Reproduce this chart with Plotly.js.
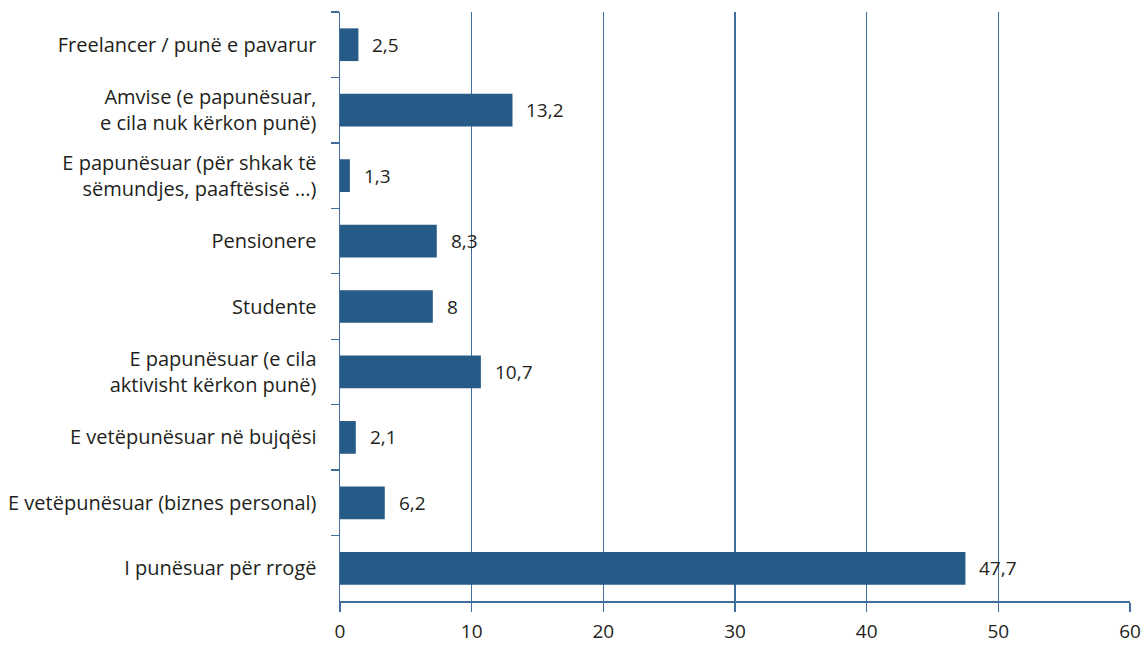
<!DOCTYPE html>
<html>
<head>
<meta charset="utf-8">
<script src="https://cdn.plot.ly/plotly-3.0.1.min.js"></script>
<style>html,body{margin:0;padding:0;background:#fff;}#chart{width:1144px;height:645px;}</style>
</head>
<body>
<div id="chart"></div>
<script>
const categories = [
  "Freelancer / punë e pavarur",
  "Amvise (e papunësuar,<br>e cila nuk kërkon punë)",
  "E papunësuar (për shkak të<br>sëmundjes, paaftësisë ...)",
  "Pensionere",
  "Studente",
  "E papunësuar (e cila<br>aktivisht kërkon punë)",
  "E vetëpunësuar në bujqësi",
  "E vetëpunësuar (biznes personal)",
  "I punësuar për rrogë"
];
const barValues = [1.4, 13.1, 0.75, 7.35, 7.05, 10.7, 1.2, 3.4, 47.5];
const valueLabels = ["2,5", "13,2", "1,3", "8,3", "8", "10,7", "2,1", "6,2", "47,7"];
const xTicks = [0, 10, 20, 30, 40, 50, 60];

const barColor = "#265a87";
const lineColor = "#3f6e9c";
const textColor = "#231f20";
const fontFamily = "'Open Sans', 'Noto Sans', sans-serif";
const fontSize = 20;

const trace = {
  type: "bar",
  orientation: "h",
  y: categories,
  x: barValues,
  marker: {color: barColor},
  hoverinfo: "none"
};

const annotations = categories.map((c, i) => ({
  x: barValues[i],
  y: c,
  xref: "x",
  yref: "y",
  text: valueLabels[i],
  showarrow: false,
  xanchor: "left",
  yanchor: "middle",
  xshift: 12,
  font: {family: fontFamily, size: fontSize - 1, color: textColor}
}));

const layout = {
  width: 1144,
  height: 645,
  margin: {l: 340, r: 14, t: 12, b: 44},
  paper_bgcolor: "#ffffff",
  plot_bgcolor: "#ffffff",
  showlegend: false,
  bargap: 0.5,
  font: {family: fontFamily, size: fontSize, color: textColor},
  xaxis: {
    range: [0, 60],
    tickvals: xTicks,
    ticktext: xTicks.map(String),
    showgrid: true,
    gridcolor: lineColor,
    gridwidth: 1.3,
    zeroline: false,
    showline: true,
    linecolor: lineColor,
    linewidth: 2,
    ticks: "outside",
    ticklen: 9,
    tickcolor: lineColor,
    tickwidth: 1.3,
    ticklabelstandoff: 3,
    tickfont: {family: fontFamily, size: fontSize - 1, color: textColor},
    fixedrange: true
  },
  yaxis: {
    type: "category",
    autorange: "reversed",
    tickson: "boundaries",
    ticks: "outside",
    ticklen: 8,
    tickcolor: lineColor,
    tickwidth: 1.3,
    showline: true,
    linecolor: lineColor,
    linewidth: 1.5,
    showgrid: false,
    zeroline: false,
    ticklabelstandoff: 18,
    tickfont: {family: fontFamily, size: fontSize, color: textColor},
    fixedrange: true
  },
  annotations: annotations
};

Plotly.newPlot("chart", [trace], layout, {displayModeBar: false, staticPlot: true});
</script>
</body>
</html>
